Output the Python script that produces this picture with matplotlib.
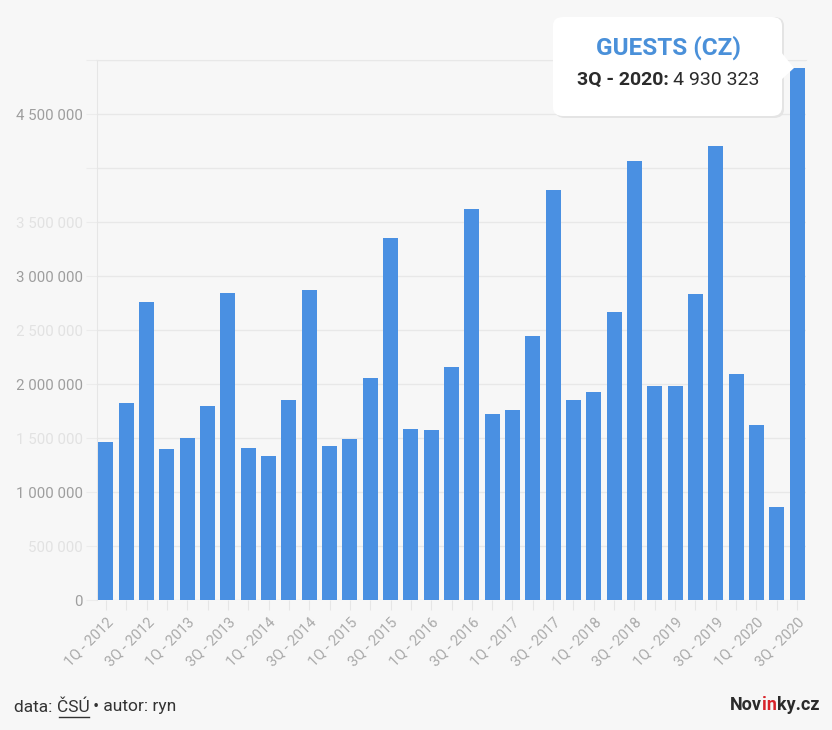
import matplotlib.pyplot as plt
from matplotlib.patches import FancyBboxPatch, Polygon
from matplotlib.lines import Line2D

plt.rcParams['font.family'] = ['Roboto', 'DejaVu Sans']

# quarterly guests (CZ)
quarters = ["1Q", "2Q", "3Q", "4Q"]
years = list(range(2012, 2021))
labels = [f"{q} - {y}" for y in years for q in quarters][:35]
guests = [1465000, 1827000, 2760000, 1395000,
          1497000, 1800000, 2840000, 1410000,
          1336000, 1855000, 2870000, 1430000,
          1494000, 2060000, 3355000, 1580000,
          1574000, 2155000, 3617000, 1719000,
          1759000, 2441000, 3793000, 1849000,
          1923000, 2667000, 4065000, 1979000,
          1979000, 2830000, 4207000, 2093000,
          1620000, 861000, 4930323]
yticks = list(range(0, 5000001, 500000))
hidden_ticks = [4000000, 5000000]
faded_ticks = [500000, 1500000, 2500000, 3500000]

BG = "#f7f7f7"
BLUE = "#4a90e2"

fig = plt.figure(figsize=(8.32, 7.30), dpi=100, facecolor=BG)
ax = fig.add_axes([97 / 832, 130 / 730, 709 / 832, 540 / 730])
ax.set_facecolor(BG)

x = list(range(len(guests)))
ax.bar(x, guests, width=0.74, color=BLUE, zorder=3)

ax.set_xlim(-0.44, len(guests) - 1 + 0.44)
ax.set_ylim(0, 5000000)

ax.set_yticks(yticks)
ylabels = []
for v in yticks:
    ylabels.append("" if v in hidden_ticks else f"{v:,}".replace(",", " "))
ax.set_yticklabels(ylabels, fontsize=10.8)
for v, t in zip(yticks, ax.get_yticklabels()):
    t.set_color("#e2e2e2" if v in faded_ticks else "#9e9e9e")
ax.grid(axis="y", color="#e8e8e8", linewidth=1, zorder=0)
ax.tick_params(axis="y", length=8, color="#ececec", pad=2)

ax.set_xticks(x)
ax.set_xticklabels([l if i % 2 == 0 else "" for i, l in enumerate(labels)],
                   rotation=45, ha="right", rotation_mode="anchor",
                   fontsize=10.5, color="#aaaaaa")
ax.tick_params(axis="x", length=7, color="#e6e6e6", pad=4)

for s in ["right", "bottom"]:
    ax.spines[s].set_visible(False)
ax.spines["left"].set_color("#e6e6e6")
ax.spines["top"].set_color("#e8e8e8")

# tooltip
W, H = 832, 730
def fx(px):
    return px / W
def fy(py):
    return 1 - py / H

shadow = FancyBboxPatch((fx(555), fy(118)), fx(782 - 553), (118 - 17) / H,
                        boxstyle="round,pad=0,rounding_size=0.012",
                        transform=fig.transFigure, facecolor="#e4e4e4",
                        edgecolor="none", zorder=9)
fig.patches.append(shadow)
box = FancyBboxPatch((fx(553), fy(116)), fx(782 - 553), (116 - 17) / H,
                     boxstyle="round,pad=0,rounding_size=0.012",
                     transform=fig.transFigure, facecolor="white",
                     edgecolor="none", zorder=10)
fig.patches.append(box)
tri = Polygon([(fx(781), fy(52)), (fx(794), fy(68)), (fx(781), fy(80))],
              closed=True, transform=fig.transFigure, facecolor="white",
              edgecolor="none", zorder=10)
fig.patches.append(tri)

fig.text(fx(669), fy(48), "GUESTS (CZ)", ha="center", va="center",
         fontsize=17.5, fontweight="bold", color="#4a90d9", zorder=11)
fig.text(fx(669), fy(80), "3Q - 2020:", ha="right", va="center",
         fontsize=14, fontweight="bold", color="#2b2b2b", zorder=11)
fig.text(fx(673), fy(80), "4 930 323", ha="left", va="center",
         fontsize=14, color="#2b2b2b", zorder=11)

# footer
renderer = fig.canvas.get_renderer()
t1 = fig.text(fx(14), fy(707), "data: ", ha="left", va="center",
              fontsize=12.5, color="#333333")
bb = t1.get_window_extent(renderer)
t2 = fig.text(bb.x1 / W, fy(707), "ČSÚ", ha="left", va="center",
              fontsize=12.5, color="#333333")
bb2 = t2.get_window_extent(renderer)
fig.lines.append(Line2D([(bb2.x0 + 2) / W, bb2.x1 / W], [fy(717), fy(717)],
                        transform=fig.transFigure, color="#333333", lw=1))
fig.text(bb2.x1 / W, fy(707), " • autor: ryn", ha="left", va="center",
         fontsize=12.5, color="#333333")

n3 = fig.text(fx(819), fy(705), "ky.cz", ha="right", va="center",
              fontsize=13, fontweight="bold", color="#2b2b2b")
b3 = n3.get_window_extent(renderer)
n2 = fig.text(b3.x0 / W, fy(705), "in", ha="right", va="center",
              fontsize=13, fontweight="bold", color="#d8232a")
b2 = n2.get_window_extent(renderer)
fig.text(b2.x0 / W, fy(705), "Nov", ha="right", va="center",
         fontsize=13, fontweight="bold", color="#2b2b2b")

fig.savefig("out.png", dpi=100, facecolor=BG)
